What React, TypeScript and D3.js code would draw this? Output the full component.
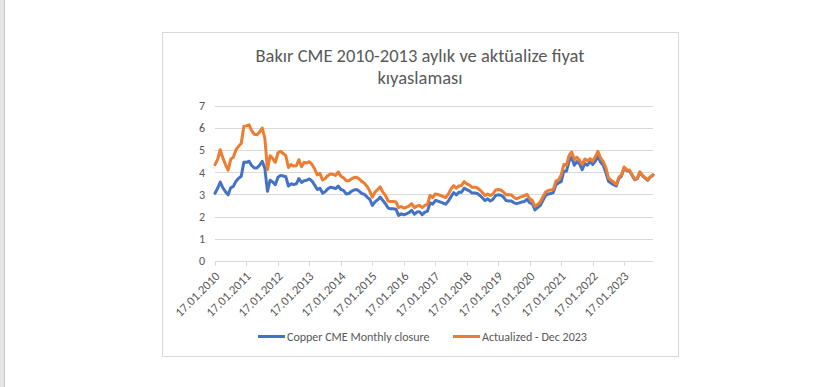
import * as d3 from "d3";
import React from "react";

const years = [2010, 2011, 2012, 2013, 2014, 2015, 2016, 2017, 2018, 2019, 2020, 2021, 2022, 2023];
const monthCodes = ["01", "02", "03", "04", "05", "06", "07", "08", "09", "10", "11", "12"];
const categories = years.flatMap((y) => monthCodes.map((m) => `17.${m}.${y}`));

// monthly close, USD/lb (one row per year)
const copperClose = [
  3.05, 3.28, 3.56, 3.30, 3.12, 2.98, 3.30, 3.36, 3.60, 3.73, 3.82, 4.45,
  4.45, 4.50, 4.30, 4.20, 4.20, 4.32, 4.50, 4.18, 3.14, 3.64, 3.56, 3.44,
  3.78, 3.86, 3.83, 3.80, 3.38, 3.48, 3.44, 3.48, 3.72, 3.54, 3.62, 3.64,
  3.70, 3.60, 3.42, 3.22, 3.28, 3.06, 3.12, 3.25, 3.32, 3.30, 3.26, 3.38,
  3.22, 3.18, 3.02, 3.04, 3.14, 3.20, 3.22, 3.14, 3.04, 3.00, 2.88, 2.78,
  2.50, 2.66, 2.75, 2.88, 2.72, 2.58, 2.38, 2.35, 2.35, 2.33, 2.05, 2.12,
  2.08, 2.12, 2.18, 2.28, 2.10, 2.20, 2.22, 2.08, 2.20, 2.24, 2.62, 2.56,
  2.72, 2.70, 2.65, 2.60, 2.56, 2.70, 2.90, 3.08, 2.98, 3.10, 3.10, 3.28,
  3.22, 3.16, 3.06, 3.06, 3.04, 2.95, 2.84, 2.72, 2.80, 2.70, 2.78, 2.95,
  2.98, 2.96, 2.88, 2.72, 2.70, 2.70, 2.62, 2.58, 2.62, 2.66, 2.68, 2.78,
  2.62, 2.58, 2.30, 2.40, 2.50, 2.72, 2.94, 3.02, 3.04, 3.08, 3.44, 3.52,
  3.58, 4.05, 4.05, 4.50, 4.68, 4.32, 4.48, 4.38, 4.12, 4.40, 4.32, 4.48,
  4.36, 4.50, 4.72, 4.46, 4.32, 4.00, 3.60, 3.52, 3.44, 3.38, 3.72, 3.84,
  4.20, 4.07, 4.07, 3.87, 3.66, 3.71, 4.00, 3.84, 3.74, 3.64, 3.79, 3.88,
];

// same months, in Dec 2023 money
const copperActualized = [
  4.35, 4.58, 5.02, 4.65, 4.35, 4.10, 4.60, 4.68, 5.02, 5.18, 5.30, 6.08,
  6.10, 6.15, 5.88, 5.72, 5.70, 5.82, 6.00, 5.55, 4.12, 4.75, 4.62, 4.45,
  4.88, 4.95, 4.85, 4.75, 4.22, 4.35, 4.28, 4.30, 4.57, 4.25, 4.45, 4.42,
  4.48, 4.35, 4.15, 3.88, 3.95, 3.65, 3.72, 3.85, 3.92, 3.90, 3.86, 4.02,
  3.82, 3.75, 3.62, 3.62, 3.70, 3.76, 3.78, 3.70, 3.58, 3.50, 3.36, 3.15,
  2.88, 3.10, 3.22, 3.34, 3.10, 2.95, 2.70, 2.68, 2.68, 2.66, 2.40, 2.45,
  2.38, 2.42, 2.48, 2.58, 2.40, 2.48, 2.50, 2.40, 2.50, 2.55, 2.95, 2.85,
  3.02, 3.00, 2.95, 2.90, 2.86, 3.02, 3.25, 3.40, 3.28, 3.38, 3.40, 3.58,
  3.48, 3.42, 3.32, 3.32, 3.30, 3.20, 3.08, 2.95, 3.02, 2.95, 3.02, 3.20,
  3.22, 3.20, 3.10, 2.98, 2.98, 2.98, 2.86, 2.80, 2.86, 2.90, 2.95, 3.00,
  2.80, 2.72, 2.46, 2.54, 2.66, 2.88, 3.10, 3.18, 3.20, 3.22, 3.60, 3.66,
  3.88, 4.35, 4.32, 4.75, 4.92, 4.58, 4.68, 4.55, 4.35, 4.60, 4.52, 4.62,
  4.50, 4.70, 4.95, 4.65, 4.48, 4.22, 3.75, 3.65, 3.55, 3.45, 3.78, 3.88,
  4.24, 4.10, 4.10, 3.90, 3.68, 3.72, 4.02, 3.86, 3.76, 3.66, 3.80, 3.88,
];

const yTicks = [0, 1, 2, 3, 4, 5, 6, 7];
const xTickLabels = categories.filter((c) => c.startsWith("17.01."));
const titleLines = ["Bakır CME 2010-2013 aylık ve aktüalize fiyat", "kıyaslaması"];
const seriesNames = ["Copper CME Monthly closure", "Actualized - Dec 2023"];
const seriesColors = ["#4472C4", "#ED7D31"];

const FONT = "Carlito, Calibri, Lato, sans-serif";
const TEXT = "#595959";
const GRID = "#d9d9d9";

const App: React.FC = () => {
  const x = d3.scalePoint<string>().domain(categories).range([215, 653]);
  const y = d3.scaleLinear().domain([0, 7]).range([260.7, 106]);

  const line = d3
    .line<number>()
    .x((_, i) => x(categories[i]) ?? 0)
    .y((d) => y(d));

  const series = [copperClose, copperActualized];

  return (
    <div style={{ position: "absolute", left: 0, top: 0 }}>
      <svg width={819} height={387} style={{ display: "block" }} fontFamily={FONT}>
        <rect width={819} height={387} fill="#fff" />
        <rect x={0} y={0} width={4} height={387} fill="#e6e6e6" />
        <line x1={4.5} x2={4.5} y1={0} y2={387} stroke="#c8c8c8" />
        <rect x={162.5} y={32.5} width={516} height={324} fill="#fff" stroke={GRID} />

        {titleLines.map((t, i) => (
          <text key={t} x={420} y={62 + i * 21.5} textAnchor="middle" fontSize={18.5} fill={TEXT}>
            {t}
          </text>
        ))}

        {yTicks.map((t) => (
          <g key={t}>
            <line x1={215} x2={653} y1={Math.round(y(t)) + 0.5} y2={Math.round(y(t)) + 0.5} stroke={GRID} />
            <text x={205} y={y(t)} dy="0.35em" textAnchor="end" fontSize={12} fill={TEXT}>
              {t}
            </text>
          </g>
        ))}

        {xTickLabels.map((c) => {
          const px = Math.round(x(c) ?? 0) + 0.5;
          return (
            <g key={c}>
              <line x1={px} x2={px} y1={261} y2={266} stroke={GRID} />
              <text
                transform={`translate(${px + 2},${274}) rotate(-45)`}
                textAnchor="end"
                dy="0.35em"
                fontSize={12.5}
                fill={TEXT}
              >
                {c}
              </text>
            </g>
          );
        })}

        {series.map((s, i) => (
          <path
            key={seriesNames[i]}
            d={line(s) ?? ""}
            fill="none"
            stroke={seriesColors[i]}
            strokeWidth={3}
            strokeLinejoin="round"
            strokeLinecap="round"
          />
        ))}

        {seriesNames.map((n, i) => {
          const lx = [258, 453][i];
          return (
            <g key={n}>
              <line x1={lx} x2={lx + 27} y1={336.5} y2={336.5} stroke={seriesColors[i]} strokeWidth={3} />
              <text x={lx + 29} y={336.5} dy="0.35em" fontSize={12} fill={TEXT}>
                {n}
              </text>
            </g>
          );
        })}
      </svg>
    </div>
  );
};

export default App;
